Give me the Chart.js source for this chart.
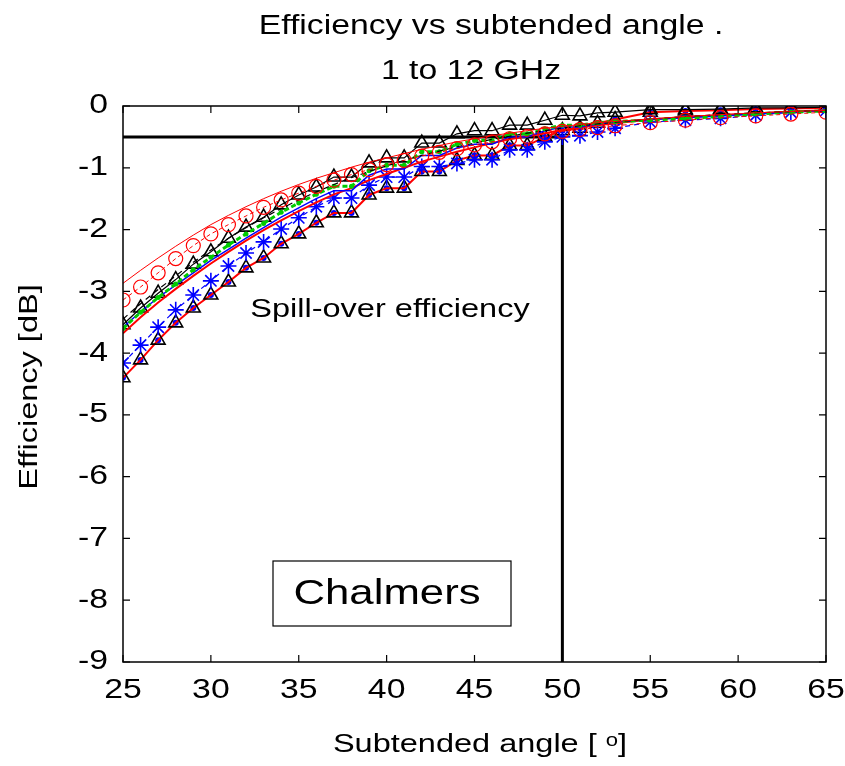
<!DOCTYPE html>
<html lang="en">
<head>
    <meta charset="UTF-8">
    <title>Efficiency vs subtended angle</title>
    <script src="https://cdn.jsdelivr.net/npm/chart.js"></script>
    <style>
        body { margin: 0; background: #fff; }
    </style>
</head>
<body>
    <canvas id="effChart" width="845" height="766"></canvas>

    <script>
        // angles where the curves were sampled
        const angles = [25,26,27,28,29,30,31,32,33,34,35,36,37,38,39,40,41,42,43,44,45,46,47,48,49,50,51,52,53,55,57,59,61,63,65];

        // efficiency in dB
        const redTop = [-2.87,-2.66,-2.46,-2.27,-2.09,-1.92,-1.77,-1.63,-1.5,-1.38,-1.27,-1.17,-1.08,-0.99,-0.91,-0.84,-0.77,-0.7,-0.64,-0.58,-0.53,-0.48,-0.44,-0.4,-0.36,-0.33,-0.3,-0.27,-0.25,-0.21,-0.17,-0.14,-0.11,-0.09,-0.07];
        const redCircles = [-3.14,-2.93,-2.7,-2.47,-2.26,-2.07,-1.92,-1.78,-1.64,-1.52,-1.41,-1.3,-1.2,-1.11,-1.03,-0.95,-0.88,-0.81,-0.75,-0.69,-0.63,-0.58,-0.53,-0.49,-0.45,-0.41,-0.38,-0.35,-0.32,-0.27,-0.23,-0.19,-0.16,-0.13,-0.1];
        const blackDash = [-3.45,-3.2,-2.97,-2.75,-2.53,-2.33,-2.14,-1.97,-1.81,-1.66,-1.52,-1.39,-1.27,-1.16,-1.06,-0.97,-0.88,-0.8,-0.73,-0.66,-0.6,-0.54,-0.49,-0.44,-0.4,-0.36,-0.32,-0.29,-0.26,-0.21,-0.17,-0.14,-0.11,-0.09,-0.07];
        const triUpper = [-3.54,-3.27,-3.03,-2.81,-2.56,-2.36,-2.14,-1.96,-1.8,-1.6,-1.44,-1.31,-1.15,-1.15,-0.92,-0.84,-0.84,-0.6,-0.6,-0.45,-0.4,-0.4,-0.31,-0.31,-0.23,-0.15,-0.16,-0.11,-0.1,-0.06,-0.06,-0.05,-0.03,-0.03,-0.02];
        const greenDash = [-3.6,-3.34,-3.1,-2.88,-2.65,-2.45,-2.25,-2.07,-1.9,-1.72,-1.57,-1.43,-1.3,-1.3,-1.05,-0.96,-0.96,-0.74,-0.74,-0.62,-0.56,-0.56,-0.45,-0.45,-0.37,-0.31,-0.31,-0.27,-0.25,-0.23,-0.2,-0.17,-0.13,-0.1,-0.08];
        const blueSolid = [-3.58,-3.33,-3.1,-2.9,-2.7,-2.5,-2.32,-2.14,-1.97,-1.8,-1.65,-1.5,-1.37,-1.37,-1.12,-1.02,-1.02,-0.8,-0.8,-0.68,-0.62,-0.62,-0.5,-0.5,-0.4,-0.34,-0.34,-0.29,-0.26,-0.22,-0.19,-0.16,-0.13,-0.1,-0.07];
        const redLow = [-3.68,-3.42,-3.18,-2.96,-2.75,-2.55,-2.36,-2.18,-2.01,-1.85,-1.7,-1.56,-1.43,-1.33,-1.2,-1.1,-1.0,-0.9,-0.82,-0.74,-0.67,-0.6,-0.54,-0.49,-0.44,-0.39,-0.35,-0.31,-0.28,-0.22,-0.18,-0.15,-0.12,-0.09,-0.07];
        const blueStars = [-4.16,-3.87,-3.58,-3.3,-3.06,-2.83,-2.59,-2.38,-2.2,-1.99,-1.81,-1.63,-1.49,-1.49,-1.28,-1.15,-1.15,-0.98,-0.98,-0.93,-0.87,-0.87,-0.71,-0.71,-0.58,-0.5,-0.48,-0.42,-0.36,-0.26,-0.23,-0.2,-0.15,-0.1,-0.07];
        const triLower = [-4.4,-4.11,-3.79,-3.51,-3.27,-3.06,-2.85,-2.62,-2.46,-2.23,-2.07,-1.89,-1.73,-1.73,-1.44,-1.33,-1.33,-1.06,-1.06,-0.88,-0.8,-0.8,-0.64,-0.64,-0.5,-0.4,-0.36,-0.28,-0.22,-0.1,-0.08,-0.07,-0.05,-0.04,-0.03];

        // the -0.5 dB / 50 degree guide lines
        const guideX = [25, 50, 50];
        const guideY = [-0.5, -0.5, -9];

        const xTicks = [25,30,35,40,45,50,55,60,65];
        const yTicks = [0,-1,-2,-3,-4,-5,-6,-7,-8,-9];

        const FONT = "'Liberation Sans', Arial, sans-serif";
        const STRETCH = 1.25; // the original lettering is wide

        function pts(ys) {
            return angles.map((a, i) => ({ x: a, y: ys[i] }));
        }

        function series(ys, color, opts) {
            return Object.assign({
                data: pts(ys),
                borderColor: color,
                backgroundColor: color,
                borderWidth: 1.5,
                pointRadius: 0,
                fill: false,
                tension: 0
            }, opts || {});
        }

        function wideText(c, text, x, y, size, rot) {
            c.save();
            c.translate(x, y);
            if (rot) c.rotate(rot);
            c.scale(STRETCH, 1);
            c.font = size + 'px ' + FONT;
            c.fillText(text, 0, 0);
            c.restore();
        }

        // frame, inward ticks, tick labels, titles and the two notes
        const decor = {
            id: 'decor',
            afterDatasetsDraw(chart) {
                const c = chart.ctx;
                const a = chart.chartArea;
                const sx = chart.scales.x, sy = chart.scales.y;
                c.save();
                c.strokeStyle = '#000';
                c.lineWidth = 1.5;
                c.strokeRect(a.left, a.top, a.right - a.left, a.bottom - a.top);
                c.lineWidth = 1.2;
                c.beginPath();
                xTicks.forEach(v => {
                    const px = sx.getPixelForValue(v);
                    c.moveTo(px, a.bottom); c.lineTo(px, a.bottom - 7);
                    c.moveTo(px, a.top); c.lineTo(px, a.top + 7);
                });
                yTicks.forEach(v => {
                    const py = sy.getPixelForValue(v);
                    c.moveTo(a.left, py); c.lineTo(a.left + 7, py);
                    c.moveTo(a.right, py); c.lineTo(a.right - 7, py);
                });
                c.stroke();

                c.fillStyle = '#000';
                c.textBaseline = 'middle';
                c.textAlign = 'center';
                xTicks.forEach(v => wideText(c, String(v), sx.getPixelForValue(v), a.bottom + 29, 27));
                c.textAlign = 'right';
                yTicks.forEach(v => wideText(c, String(v), a.left - 15, sy.getPixelForValue(v), 27));

                c.textAlign = 'center';
                wideText(c, 'Efficiency vs subtended angle .', 491, 27, 27);
                wideText(c, '1 to 12 GHz', 471, 72, 27);
                wideText(c, 'Spill-over efficiency', 390, 310, 26);
                wideText(c, 'Subtended angle [ \u1d52]', 480, 745, 26);
                wideText(c, 'Efficiency [dB]', 30, 387, 26, -Math.PI / 2);

                c.lineWidth = 1.2;
                c.strokeRect(273, 561, 238, 65);
                wideText(c, 'Chalmers', 387, 594, 35);
                c.restore();
            }
        };

        const ctx = document.getElementById('effChart').getContext('2d');
        new Chart(ctx, {
            type: 'line',
            data: {
                datasets: [
                    series(redTop, '#ff0000', { borderWidth: 1 }),
                    series(redCircles, '#ff0000', {
                        borderWidth: 1, borderDash: [4, 3],
                        pointRadius: 7, pointStyle: 'circle',
                        pointBackgroundColor: 'rgba(0,0,0,0)', pointBorderWidth: 1.2
                    }),
                    series(blackDash, '#000000', { borderWidth: 1.2, borderDash: [6, 4] }),
                    series(greenDash, '#00cc00', {
                        borderWidth: 3, borderDash: [5, 3],
                        pointRadius: 2.5, pointBorderWidth: 0
                    }),
                    series(blueSolid, '#0000ff', { borderWidth: 1.5 }),
                    series(redLow, '#ff0000', { borderWidth: 2 }),
                    series(triUpper, '#000000', {
                        borderWidth: 1.2,
                        pointRadius: 8, pointStyle: 'triangle',
                        pointBackgroundColor: 'rgba(0,0,0,0)', pointBorderWidth: 1.6
                    }),
                    series(blueStars, '#0000ff', {
                        borderWidth: 1.2, borderDash: [5, 4],
                        pointRadius: 8, pointStyle: 'star', pointBorderWidth: 1.6
                    }),
                    series(triLower, '#ff0000', {
                        borderWidth: 2,
                        pointRadius: 8, pointStyle: 'triangle',
                        pointBorderColor: '#000000',
                        pointBackgroundColor: 'rgba(0,0,0,0)', pointBorderWidth: 1.6
                    }),
                    series(triLower, '#0000ff', {
                        showLine: false, pointRadius: 3, pointBorderWidth: 0
                    }),
                    {
                        data: guideX.map((x, i) => ({ x: x, y: guideY[i] })),
                        borderColor: '#000',
                        borderWidth: 3,
                        pointRadius: 0,
                        fill: false
                    }
                ]
            },
            options: {
                responsive: false,
                animation: false,
                layout: { padding: { top: 106, right: 19, left: 0, bottom: 0 } },
                plugins: {
                    legend: { display: false },
                    tooltip: { enabled: false }
                },
                scales: {
                    x: {
                        type: 'linear',
                        min: 25, max: 65,
                        grid: { display: false, drawTicks: false },
                        border: { display: false },
                        ticks: { display: false },
                        afterFit(s) {
                            s.height = 104;
                            s.paddingLeft = 0;
                            s.paddingRight = 0;
                        },
                        afterBuildTicks(s) { s.ticks = xTicks.map(v => ({ value: v })); }
                    },
                    y: {
                        type: 'linear',
                        min: -9, max: 0,
                        grid: { display: false, drawTicks: false },
                        border: { display: false },
                        ticks: { display: false },
                        afterFit(s) {
                            s.width = 123;
                            s.paddingTop = 0;
                            s.paddingBottom = 0;
                        },
                        afterBuildTicks(s) { s.ticks = yTicks.map(v => ({ value: v })); }
                    }
                }
            },
            plugins: [decor]
        });
    </script>
</body>
</html>
